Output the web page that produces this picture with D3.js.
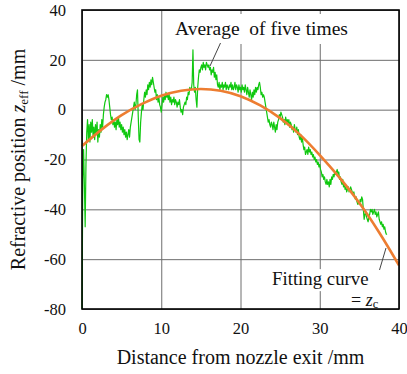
<!DOCTYPE html>
<html>
<head>
<meta charset="utf-8">
<script src="https://cdn.jsdelivr.net/npm/d3@7"></script>
<style>
  html, body { margin: 0; padding: 0; background: #fff; }
  svg { display: block; }
</style>
</head>
<body>
<svg id="chart" width="407" height="374"></svg>
<script>
// Axis tick values
const xTicks = [0, 10, 20, 30, 40];
const yTicks = [-80, -60, -40, -20, 0, 20, 40];

// Measured refractive position (average of five runs), sampled every 0.1 mm from the nozzle exit
const measuredStart = 0;
const measuredStep = 0.1;
const measuredZ = [
  -80, -28, -16, -30, -47, -22, -9, -4, -12, -6,
  -13, -5, -9, -4, -11, -7, -12, -6, -10, -5,
  -13, -8, -11, -6, -9, -4, -7, -2, 1, 3,
  4, 6, 5, 6, 4, 1, -2, -4, -3, -6,
  -4, -7, -5, -8, -4, -6, -3, -7, -5, -8,
  -6, -9, -7, -10, -8, -11, -9, -12, -10, -8,
  -11, -7, -5, -3, -1, 1, 3, 0, 2, 6,
  8, -3, -12, -13, -5, -1, 2, 0, 4, 7,
  5, 8, 6, 10, 8, 11, 9, 12, 10, 13,
  11, 9, 7, 8, 4, 6, 3, 5, 2, 1,
  -1, 2, 5, 3, 6, 4, 7, 5, 6, 4,
  6, 3, 5, 2, 4, 3, 5, 2, 4, 3,
  1, 3, 2, 4, 1, -1, 0, -2, 1, 2,
  3, 2, 5, 4, 7, 6, 9, 8, 8, 11,
  24, 10, 7, 9, 4, 1, 9, 13, 16, 15,
  17, 18, 16, 19, 17, 18, 16, 19, 18, 17,
  18, 16, 17, 14, 16, 15, 17, 13, 15, 12,
  14, 10, 9, 11, 8, 10, 9, 11, 8, 10,
  9, 11, 8, 10, 9, 8, 10, 9, 11, 8,
  10, 8, 9, 11, 8, 10, 9, 7, 10, 8,
  9, 7, 10, 8, 9, 7, 10, 8, 6, 9,
  7, 5, 8, 6, 4, 7, 5, 8, 6, 9,
  7, 9, 8, 10, 11, 9, 6, 7, 5, 6,
  5, 3, 1, -1, -3, -5, -4, -6, -7, -5,
  -6, -8, -5, -7, -9, -6, -8, -5, -4, -2,
  -3, -1, -2, -3, -5, -4, -6, -3, -5, -4,
  -6, -4, -7, -5, -6, -8, -7, -9, -6, -8,
  -9, -7, -10, -8, -11, -12, -10, -13, -11, -14,
  -16, -15, -18, -17, -16, -18, -15, -17, -16, -18,
  -17, -19, -18, -20, -19, -21, -20, -22, -21, -23,
  -22, -24, -25, -27, -26, -28, -27, -29, -30, -28,
  -30, -29, -31, -28, -30, -27, -28, -26, -27, -25,
  -26, -25, -24, -26, -25, -28, -27, -29, -30, -28,
  -31, -30, -32, -31, -33, -32, -31, -33, -32, -31,
  -32, -33, -34, -33, -35, -36, -35, -37, -38, -37,
  -38, -36, -37, -35, -36, -40, -44, -42, -41, -43,
  -44, -45, -43, -42, -40, -41, -40, -42, -41, -40,
  -42, -41, -43, -42, -41, -44, -45, -46, -45, -47,
  -46, -48, -47, -49, -50, -50
];

// Fitting curve z_c
const fitX = [0, 2.5, 5, 7.5, 10, 12.5, 15, 17.5, 20, 22.5, 25, 27.5, 30, 32.5, 35, 37.5, 40];
const fitZ = [-14.6, -7.9, -2.2, 2.2, 5.6, 7.6, 8.3, 7.6, 5.4, 1.7, -3.4, -10.0, -18.2, -27.3, -37.5, -49.3, -62.5];

const FONT = "'Liberation Serif', 'DejaVu Serif', serif";

const margin = { left: 82, top: 10, right: 8, bottom: 65 };
const W = 407, H = 374;
const pw = W - margin.left - margin.right;
const ph = H - margin.top - margin.bottom;

const svg = d3.select("#chart").attr("font-family", FONT).attr("fill", "#111");
const g = svg.append("g").attr("transform", `translate(${margin.left},${margin.top})`);

const x = d3.scaleLinear().domain([0, 40]).range([0, pw]);
const y = d3.scaleLinear().domain([-80, 40]).range([ph, 0]);

// Grid
g.append("g")
  .attr("transform", `translate(0,${ph})`)
  .call(d3.axisBottom(x).tickValues(xTicks).tickSize(-ph).tickFormat(""))
  .call(s => s.select(".domain").remove())
  .call(s => s.selectAll("line").attr("stroke", "#6e6e6e").attr("stroke-width", 1));
g.append("g")
  .call(d3.axisLeft(y).tickValues(yTicks).tickSize(-pw).tickFormat(""))
  .call(s => s.select(".domain").remove())
  .call(s => s.selectAll("line").attr("stroke", "#6e6e6e").attr("stroke-width", 1));

// Tick labels (plain hyphen for negatives)
const plain = d => String(d);
g.append("g")
  .attr("transform", `translate(0,${ph})`)
  .call(d3.axisBottom(x).tickValues(xTicks).tickSize(0).tickPadding(13).tickFormat(plain))
  .attr("font-family", FONT).attr("font-size", 16.5)
  .call(s => s.select(".domain").remove())
  .call(s => s.selectAll("text").attr("fill", "#111").attr("font-family", FONT));
g.append("g")
  .call(d3.axisLeft(y).tickValues(yTicks).tickSize(0).tickPadding(16).tickFormat(plain))
  .attr("font-family", FONT).attr("font-size", 16.5)
  .call(s => s.select(".domain").remove())
  .call(s => s.selectAll("text").attr("fill", "#111").attr("font-family", FONT));

// Label backgrounds keep the grid from running through the annotations
g.append("rect").attr("x", x(11.6)).attr("y", 4).attr("width", x(34.2) - x(11.6)).attr("height", 30).attr("fill", "#fff");
g.append("rect").attr("x", x(23.8)).attr("y", y(-64)).attr("width", x(37.4) - x(23.8)).attr("height", 22).attr("fill", "#fff");

// Measured data
const measured = measuredZ.map((v, i) => [measuredStart + i * measuredStep, v]);
g.append("path")
  .datum(measured)
  .attr("fill", "none")
  .attr("stroke", "#10c810")
  .attr("stroke-width", 1.2)
  .attr("stroke-linejoin", "round")
  .attr("d", d3.line().x(d => x(d[0])).y(d => y(d[1])));

// Fitting curve
g.append("path")
  .datum(fitX.map((v, i) => [v, fitZ[i]]))
  .attr("fill", "none")
  .attr("stroke", "#ed7d31")
  .attr("stroke-width", 2.6)
  .attr("d", d3.line().x(d => x(d[0])).y(d => y(d[1])).curve(d3.curveCatmullRom));

// Frame
g.append("rect").attr("width", pw).attr("height", ph)
  .attr("fill", "none").attr("stroke", "#000").attr("stroke-width", 1.6);

// Annotations
g.append("text").attr("x", 175 - margin.left).attr("y", 35 - margin.top).attr("font-size", 19.5)
  .attr("xml:space", "preserve").text("Average  of five times");
g.append("line").attr("x1", 220.5 - margin.left).attr("y1", 43 - margin.top)
  .attr("x2", 210 - margin.left).attr("y2", 66 - margin.top)
  .attr("stroke", "#444").attr("stroke-width", 1);

g.append("text").attr("x", 272 - margin.left).attr("y", 285 - margin.top).attr("font-size", 18.8)
  .text("Fitting curve");
const eq = g.append("text").attr("x", 351 - margin.left).attr("y", 306 - margin.top).attr("font-size", 18);
eq.append("tspan").text("= ");
eq.append("tspan").attr("font-style", "italic").text("z");
eq.append("tspan").attr("dy", 2).attr("font-size", 12.5).text("c");
g.append("line").attr("x1", 386 - margin.left).attr("y1", 248 - margin.top)
  .attr("x2", 379.5 - margin.left).attr("y2", 270 - margin.top)
  .attr("stroke", "#444").attr("stroke-width", 1);

// Axis titles
svg.append("text").attr("x", margin.left + pw / 2).attr("y", 364)
  .attr("text-anchor", "middle").attr("font-size", 20)
  .text("Distance from nozzle exit /mm");

const yt = svg.append("text")
  .attr("transform", `translate(25,${margin.top + ph / 2}) rotate(-90)`)
  .attr("text-anchor", "middle").attr("font-size", 20);
yt.append("tspan").text("Refractive position ");
yt.append("tspan").attr("font-style", "italic").text("z");
yt.append("tspan").attr("dy", 3).attr("font-size", 13).text("eff");
yt.append("tspan").attr("dy", -3).text(" /mm");
</script>
</body>
</html>
